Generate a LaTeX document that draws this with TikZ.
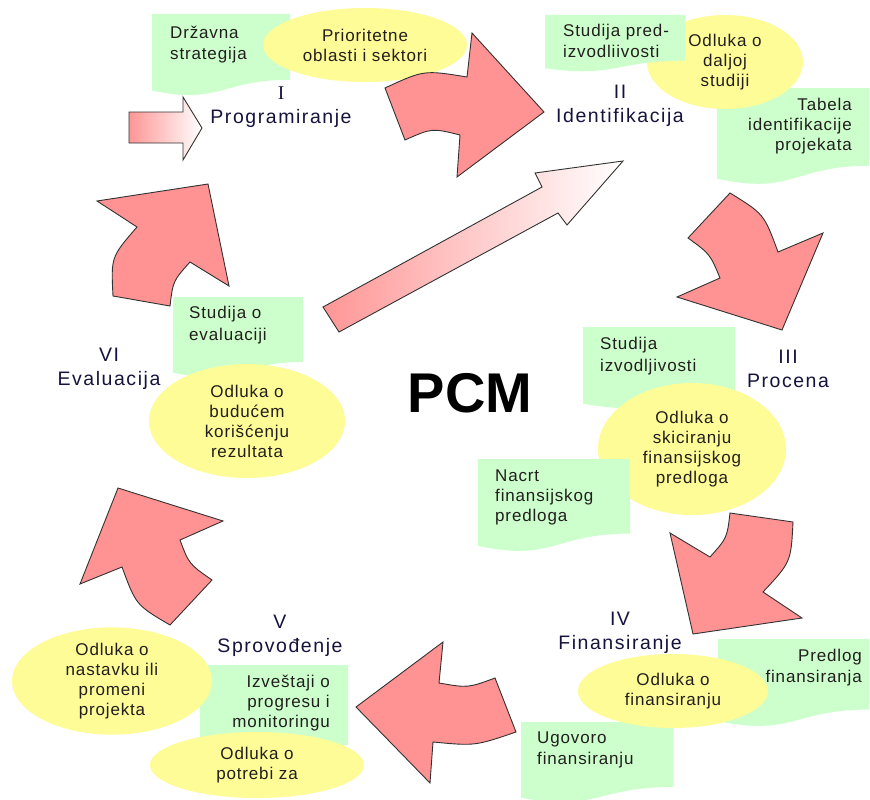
\documentclass[tikz,border=0pt]{standalone}
\usepackage{fontspec}
\setmainfont{Liberation Sans}[LetterSpace=8]
\newfontfamily\smallfont{Liberation Sans}[LetterSpace=5]
\newfontfamily\pcmfont{Liberation Sans}
\newfontfamily\serifI{Liberation Serif}
\usetikzlibrary{shapes.geometric}
\definecolor{docgreen}{RGB}{204,255,204}
\definecolor{ellyellow}{RGB}{254,252,150}
\definecolor{arrred}{RGB}{255,146,146}
\definecolor{arrpink}{RGB}{255,150,150}
\definecolor{arredge}{RGB}{50,50,50}
\definecolor{stagecol}{RGB}{22,18,62}
\definecolor{txtcol}{RGB}{35,30,30}
\tikzset{
  docfill/.style={fill=docgreen},
  doctext/.style={font=\fontsize{17}{21}\smallfont, text=txtcol, inner sep=0pt},
  elltext/.style={ellipse, fill=ellyellow, inner sep=0pt, align=center, font=\fontsize{17}{20}\smallfont, text=txtcol},
  stage/.style={align=center, font=\fontsize{19.5}{24}\selectfont, text=stagecol, inner sep=0pt},
  cyc/.style={fill=arrred, draw=arredge, line width=0.9pt, line join=miter},
  grad/.style={draw=arredge, line width=0.9pt, left color=arrpink, right color=white},
}
\newcommand\gdoc[4]{\fill[docfill] (#1,#2) -- (#1+#3,#2) -- (#1+#3,#2+0.802*#4) .. controls (#1+0.5*#3,#2+0.802*#4) and (#1+0.5*#3,#2+1.108*#4) .. (#1,#2+0.934*#4) -- cycle;}
\begin{document}
\begin{tikzpicture}[x=1pt,y=-1pt]
\useasboundingbox (0,0) rectangle (870,800);
\fill[white] (0,0) rectangle (870,800);
% document shapes (below ellipses)
\gdoc{152}{14}{138}{82}
\gdoc{717}{88}{152}{97}
\gdoc{583}{327}{152}{82}
\gdoc{718}{639}{151}{88}
\gdoc{521}{722}{152}{81}
\gdoc{200}{665}{148}{100}
\gdoc{173}{297}{130}{81}
% ellipses
\node[elltext, minimum width=204, minimum height=74] (e1) at (365,45) {Prioritetne\\oblasti i sektori};
\node[elltext, minimum width=156, minimum height=94] (e2) at (725,62) {Odluka o\\daljoj\\studiji};
\node[elltext, minimum width=188, minimum height=132] (e3) at (692,449) {Odluka o\\skiciranju\\finansijskog\\predloga};
\node[elltext, minimum width=190, minimum height=74] (e4) at (673,691) {Odluka o\\finansiranju};
\node[elltext, minimum width=200, minimum height=104] (e5) at (112,681) {Odluka o\\nastavku ili\\promeni\\projekta};
\node[elltext, minimum width=214, minimum height=66] (e6) at (257,765) {Odluka o\\potrebi za};
\node[elltext, minimum width=196, minimum height=114] (e7) at (247,421) {Odluka o\\budućem\\korišćenju\\rezultata};
% documents above ellipses
\gdoc{545}{15}{140}{57}
\gdoc{478}{459}{152}{93}
% document texts
\node[doctext, anchor=west, align=left] (d1) at (170,45) {Državna\\strategija};
\node[doctext, anchor=west, align=left] (d2) at (563,41) {Studija pred-\\izvodliivosti};
\node[doctext, anchor=east, align=right, font=\fontsize{17}{20}\smallfont] (d3) at (852,126) {Tabela\\identifikacije\\projekata};
\node[doctext, anchor=west, align=left, font=\fontsize{17}{22}\smallfont] (d4) at (600,356) {Studija\\izvodljivosti};
\node[doctext, anchor=west, align=left, font=\fontsize{17}{20}\smallfont] (d5) at (495,497) {Nacrt\\finansijskog\\predloga};
\node[doctext, anchor=east, align=right] (d6) at (862,668) {Predlog\\finansiranja};
\node[doctext, anchor=west, align=left] (d7) at (537,750) {Ugovoro\\finansiranju};
\node[doctext, anchor=east, align=right, font=\fontsize{17}{20}\smallfont] (d8) at (330,703) {Izveštaji o\\progresu i\\monitoringu};
\node[doctext, anchor=west, align=left, font=\fontsize{17}{22}\smallfont] (d9) at (189,325) {Studija o\\evaluaciji};
% stage labels
\node[stage] (s1) at (281,107) {{\serifI I}\\Programiranje};
\node[stage] (s2) at (620,106) {II\\Identifikacija};
\node[stage] (s3) at (788,369) {III\\Procena};
\node[stage] (s4) at (620,633) {IV\\Finansiranje};
\node[stage] (s5) at (280,636) {V\\Sprovođenje};
\node[stage] (s6) at (109,369) {VI\\Evaluacija};
% title
\node[font={\fontsize{56}{60}\pcmfont\bfseries}, text=black, inner sep=0pt] (pcm) at (470,393) {PCM};
% cycle arrows
\filldraw[cyc] (385,88) .. controls (424,70) .. (467,77) -- (472,33) -- (544,112) -- (457,177) -- (460,135) .. controls (432,128) .. (405,140) -- cycle;
\filldraw[cyc] (730,193) -- (688,238) .. controls (710,254) .. (720,278) -- (677,297) -- (782,330) -- (823,233) -- (778,252) .. controls (764,214) .. (730,193) -- cycle;
\filldraw[cyc] (730,513) -- (793,522) .. controls (791,562) .. (763,592) -- (802,618) -- (693,634) -- (670,533) -- (710,557) .. controls (727,538) .. (730,513) -- cycle;
\filldraw[cyc] (356,707) -- (443,642) -- (439,683) .. controls (468,688) .. (495,678) -- (516,732) .. controls (475,746) .. (433,742) -- (430,783) -- cycle;
\filldraw[cyc] (118,488) -- (223,521) -- (180,540) .. controls (189,564) .. (212,580) -- (170,625) .. controls (136,605) .. (122,567) -- (80,584) -- cycle;
\filldraw[cyc] (97,201) -- (208,184) -- (229,286) -- (190,262) .. controls (173,281) .. (170,306) -- (113,296) .. controls (111,257) .. (137,227) -- cycle;
% gradient arrows
\shadedraw[grad] (129,112) -- (183,112) -- (183,97) -- (202,128) -- (183,160) -- (183,143) -- (129,143) -- cycle;
\shadedraw[grad] (323,307) -- (542,187) -- (535,173) -- (623,161) -- (567,225) -- (558,213) -- (339,332) -- cycle;
\end{tikzpicture}
\end{document}
